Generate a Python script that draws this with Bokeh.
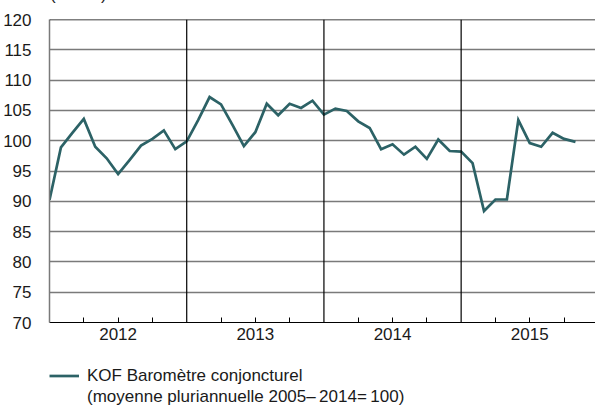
from bokeh.plotting import figure
from bokeh.layouts import column
from bokeh.models import (FixedTicker, Span, Legend, LegendItem, ColumnDataSource, Div)
from bokeh.embed import file_html
from bokeh.resources import INLINE

years = [2012, 2013, 2014, 2015]
kof_2012 = [90.2, 98.9, 101.3, 103.6, 99.0, 97.1, 94.5, 96.8, 99.2, 100.3, 101.7, 98.6]
kof_2013 = [99.9, 103.4, 107.2, 106.0, 102.6, 99.1, 101.4, 106.1, 104.2, 106.1, 105.4, 106.6]
kof_2014 = [104.3, 105.3, 104.9, 103.2, 102.1, 98.6, 99.4, 97.7, 99.0, 97.0, 100.2, 98.3]
kof_2015 = [98.2, 96.3, 88.4, 90.3, 90.3, 103.4, 99.6, 99.0, 101.3, 100.3, 99.8]
y_ticks = [70, 75, 80, 85, 90, 95, 100, 105, 110, 115, 120]
unit_label = "(Indice)"
legend_line1 = "KOF Baromètre conjoncturel"
legend_line2 = "(moyenne pluriannuelle 2005\u2013\u20092014=\u2009100)"

values = kof_2012 + kof_2013 + kof_2014 + kof_2015
months = list(range(len(values)))  # months since Jan 2012
src = ColumnDataSource(data=dict(x=months, y=values))

FONT = "Liberation Sans"
TEXT = "#1a1a1a"
LINE = "#2c6266"
GRID = "#7a7a7a"

# strip at the very top: unit label, mostly cut off as in the reference
tf = Div(text=('<div style="position:relative; top:-15px; left:50px; '
               'font-family:\'Liberation Sans\'; font-size:17px; line-height:19px; '
               'color:%s; white-space:nowrap;">%s</div>' % (TEXT, unit_label)),
         width=595, height=4, margin=0)

p = figure(width=595, height=346, output_backend="svg", toolbar_location=None,
           x_range=(0, 47.75), y_range=(70, 120),
           min_border_left=48, min_border_right=0, min_border_top=15,
           min_border_bottom=28)
p.outline_line_color = None
p.background_fill_color = "white"
p.border_fill_color = "white"

r = p.line("x", "y", source=src, line_color=LINE, line_width=2.7, line_join="miter")

# y axis
p.yaxis.ticker = FixedTicker(ticks=y_ticks)
p.yaxis.major_tick_line_color = None
p.yaxis.minor_tick_line_color = None
p.yaxis.axis_line_color = GRID
p.yaxis.axis_line_width = 1.5
p.yaxis.major_label_text_font = FONT
p.yaxis.major_label_text_font_size = "17px"
p.yaxis.major_label_text_color = TEXT
p.yaxis.major_label_standoff = 12

# x axis: quarterly ticks, year labels centred
q_ticks = [m for m in range(0, 48, 3) if m % 12 != 0]
p.xaxis.ticker = FixedTicker(ticks=q_ticks)
overrides = {}
for t in q_ticks:
    overrides[t] = str(years[t // 12]) if t % 12 == 6 else ""
p.xaxis.major_label_overrides = overrides
p.xaxis.major_tick_in = 5
p.xaxis.major_tick_out = 0
p.xaxis.major_tick_line_color = "black"
p.xaxis.minor_tick_line_color = None
p.xaxis.axis_line_color = "black"
p.xaxis.axis_line_width = 1.2
p.xaxis.major_label_text_font = FONT
p.xaxis.major_label_text_font_size = "17px"
p.xaxis.major_label_text_color = TEXT
p.xaxis.major_label_standoff = 5

p.xgrid.visible = False
p.ygrid.ticker = FixedTicker(ticks=y_ticks)
p.ygrid.grid_line_color = GRID
p.ygrid.grid_line_width = 1.5

for yb in [12, 24, 36]:
    p.add_layout(Span(location=yb, dimension="height", line_color="black", line_width=1.2))
p.add_layout(Span(location=120, dimension="width", line_color="black", line_width=1.5))

# legend panel underneath (its frame is aligned with the chart frame by the column)
lf = figure(width=595, height=57, output_backend="svg", toolbar_location=None,
            x_range=(0, 1), y_range=(0, 1),
            x_axis_location=None, y_axis_location=None,
            min_border_left=0, min_border_right=0, min_border_top=0, min_border_bottom=0)
lf.grid.visible = False
lf.outline_line_color = None
lr = lf.line("x", "y", source=src, line_color=LINE, line_width=2.7)
lg = lf.line("x", "y", source=src, line_alpha=0)
legend = Legend(items=[LegendItem(label=legend_line1, renderers=[lr]),
                       LegendItem(label=legend_line2, renderers=[lg])],
                location=(0, 0), orientation="vertical",
                glyph_width=30, glyph_height=21, label_height=21, spacing=0,
                label_standoff=8, padding=0, margin=0,
                border_line_alpha=0, background_fill_alpha=0,
                label_text_font=FONT, label_text_font_size="17px",
                label_text_color=TEXT)
lf.add_layout(legend, "center")

layout = column(tf, p, lf, spacing=0)

open("out.html", "w").write(file_html(layout, INLINE))
